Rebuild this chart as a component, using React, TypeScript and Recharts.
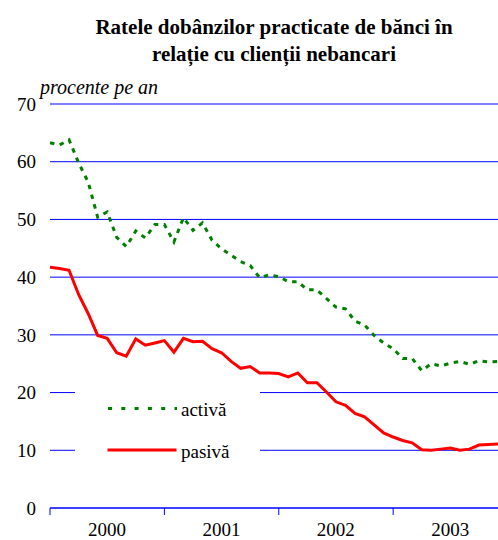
import React from "react";
import { LineChart, Line, XAxis, YAxis, CartesianGrid, Legend } from "recharts";

// monthly rates, Jan 2000 .. Dec 2003
const activa = [
  63.3, 62.9, 63.8, 59.8, 56.5, 50.4, 51.3, 46.9, 45.3, 48.0, 46.8, 49.1,
  49.1, 46.1, 50.3, 48.1, 49.4, 46.4, 44.9, 43.8, 42.7, 42.0, 39.9, 40.4,
  40.1, 39.2, 39.2, 37.8, 37.8, 36.3, 34.8, 34.5, 32.4, 31.7, 29.9, 28.6,
  27.6, 25.9, 25.9, 23.8, 25.0, 24.6, 25.1, 25.4, 24.9, 25.5, 25.3, 25.4,
];
const pasiva = [
  41.7, 41.5, 41.2, 37.0, 33.7, 29.9, 29.4, 26.9, 26.3, 29.3, 28.2, 28.6,
  29.0, 27.0, 29.4, 28.8, 28.9, 27.6, 26.9, 25.4, 24.2, 24.5, 23.4, 23.4,
  23.3, 22.7, 23.4, 21.7, 21.7, 20.1, 18.4, 17.8, 16.4, 15.8, 14.4, 13.0,
  12.3, 11.7, 11.3, 10.1, 10.0, 10.2, 10.4, 10.0, 10.2, 10.9, 11.0, 11.1,
];
const years = ["2000", "2001", "2002", "2003"];
const yearStarts = [0, 12, 24, 36];
const yTicks = [0, 10, 20, 30, 40, 50, 60, 70];

const data = activa.map((v, i) => ({ t: i, activa: v, pasiva: pasiva[i] }));

const FONT = "'Liberation Serif', 'Times New Roman', serif";
const BLUE = "#0000ff";

function YearTick({ x, y, payload }: any) {
  const i = yearStarts.indexOf(payload.value);
  return (
    <g>
      <line x1={x} x2={x} y1={y} y2={y + 7} stroke={BLUE} strokeWidth={1} />
      <text x={x + 57} y={y + 28} textAnchor="middle" fontSize={19} fontFamily={FONT} fill="#000">
        {years[i]}
      </text>
    </g>
  );
}

function LegendBox() {
  return (
    <svg width={185} height={85} style={{ display: "block", background: "#fff" }}>
      <line x1={33} x2={102} y1={23.5} y2={23.5} stroke="#008000" strokeWidth={3} strokeDasharray="4 9.3" />
      <text x={106} y={31} fontSize={19} fontFamily={FONT} fill="#000">activă</text>
      <line x1={32.5} x2={101.5} y1={65} y2={65} stroke="#ff0000" strokeWidth={3} />
      <text x={106} y={73} fontSize={19} fontFamily={FONT} fill="#000">pasivă</text>
    </svg>
  );
}

export default function App() {
  return (
    <div style={{ position: "absolute", left: 0, top: 0, width: 498, height: 540, background: "#fff" }}>
      <LineChart width={498} height={540} data={data} margin={{ top: 104, right: 0, left: 0, bottom: 0 }}>
        <CartesianGrid vertical={false} stroke={BLUE} strokeWidth={1} />
        <XAxis
          dataKey="t"
          type="number"
          domain={[0, 47]}
          ticks={yearStarts}
          height={32}
          tickSize={0}
          tickMargin={0}
          tickLine={false}
          axisLine={{ stroke: BLUE, strokeWidth: 1 }}
          tick={<YearTick />}
          interval={0}
        />
        <YAxis
          domain={[0, 70]}
          ticks={yTicks}
          width={50}
          tickSize={0}
          tickMargin={14}
          axisLine={false}
          tickLine={false}
          tick={{ fill: "#000", fontSize: 19, fontFamily: FONT }}
        />
        <Legend
          layout="vertical"
          align="center"
          verticalAlign="middle"
          content={<LegendBox />}
          wrapperStyle={{ left: 75, top: 385, width: 185, height: 85 }}
        />
        <Line
          type="linear"
          dataKey="activa"
          stroke="#008000"
          strokeWidth={3}
          strokeDasharray="4.5 5.5"
          dot={false}
          isAnimationActive={false}
        />
        <Line
          type="linear"
          dataKey="pasiva"
          stroke="#ff0000"
          strokeWidth={3}
          dot={false}
          isAnimationActive={false}
        />
      </LineChart>
      <svg width={498} height={110} style={{ position: "absolute", left: 0, top: 0, pointerEvents: "none" }}>
        <text x={274} y={34} textAnchor="middle" fontSize={21} fontWeight="bold" fontFamily={FONT} fill="#000">
          Ratele dobânzilor practicate de bănci în
        </text>
        <text x={274} y={61} textAnchor="middle" fontSize={21} fontWeight="bold" fontFamily={FONT} fill="#000">
          relație cu clienții nebancari
        </text>
        <text x={40} y={94} fontSize={20} fontStyle="italic" fontFamily={FONT} fill="#000">
          procente pe an
        </text>
      </svg>
    </div>
  );
}
